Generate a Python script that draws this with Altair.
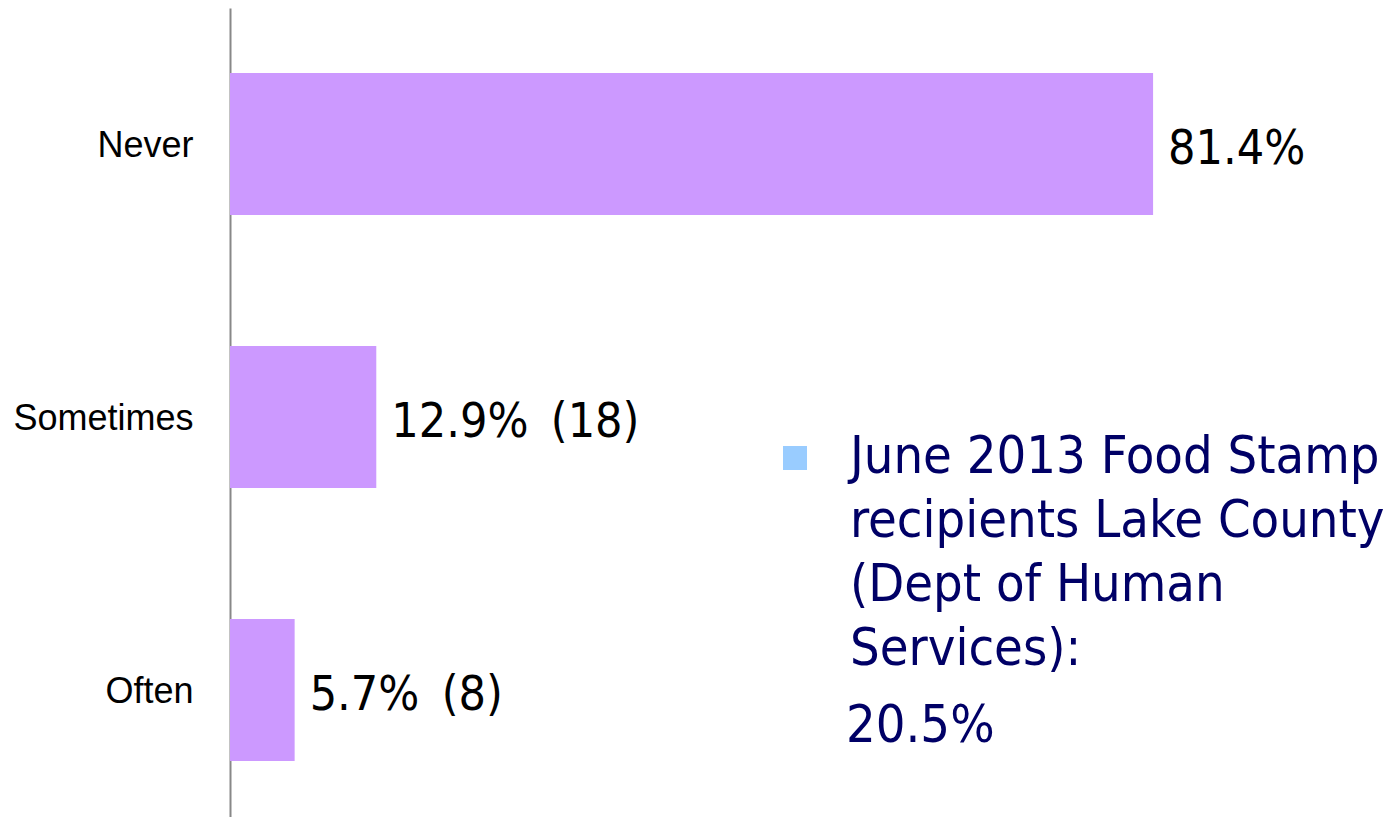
import altair as alt
import pandas as pd

categories = ["Never", "Sometimes", "Often"]
percents = [81.4, 12.9, 5.7]
counts = [None, 18, 8]
note_lines = ["June 2013 Food Stamp", "recipients Lake County", "(Dept of Human", "Services):"]
note_value = "20.5%"

labels = [f"{p}%" + (f"\u2009 ({c})" if c is not None else "") for p, c in zip(percents, counts)]
df = pd.DataFrame({"category": categories, "percent": percents, "label": labels})

FONT_T = "DejaVu Sans Condensed, DejaVu Sans, sans-serif"
NAVY = "#000066"

base = alt.Chart(df).encode(
    y=alt.Y(
        "category:N",
        sort=categories,
        scale=alt.Scale(paddingInner=0.48, paddingOuter=0.2217, align=0.537),
        axis=alt.Axis(
            title=None,
            labelFont="Liberation Sans",
            labelFontSize=36,
            labelColor="black",
            labelLimit=400,
            ticks=False,
            labelPadding=37,
            labelOffset=2,
            domainColor="#888888",
            domainWidth=2,
            grid=False,
        ),
    )
)

bars = base.mark_bar(color="#CC99FF").encode(
    x=alt.X("percent:Q", scale=alt.Scale(domain=[0, 100]), axis=None)
)

values = base.mark_text(
    align="left", baseline="alphabetic", dx=15, dy=20,
    font=FONT_T, fontSize=48, color="black",
).encode(x="percent:Q", text="label:N")

one = pd.DataFrame({"k": [0]})

bullet = alt.Chart(one).mark_square(size=576, color="#99CCFF", filled=True, opacity=1).encode(
    x=alt.value(565), y=alt.value(450)
)

note = alt.Chart(one).mark_text(
    text=note_lines, align="left", baseline="alphabetic", lineHeight=64,
    font=FONT_T, fontSize=52, color=NAVY,
).encode(x=alt.value(620), y=alt.value(465))

note_val = alt.Chart(one).mark_text(
    text=note_value, align="left", baseline="alphabetic",
    font=FONT_T, fontSize=52, color=NAVY,
).encode(x=alt.value(616), y=alt.value(734))

chart = (
    alt.layer(bars, values, bullet, note, note_val)
    .properties(
        width=1134,
        height=809,
        autosize=alt.AutoSizeParams(type="none"),
        padding={"left": 222, "top": 0, "right": 23, "bottom": 0},
    )
    .configure_view(stroke=None)
)

chart.save("out.html", embed_options={"renderer": "svg", "actions": False})
